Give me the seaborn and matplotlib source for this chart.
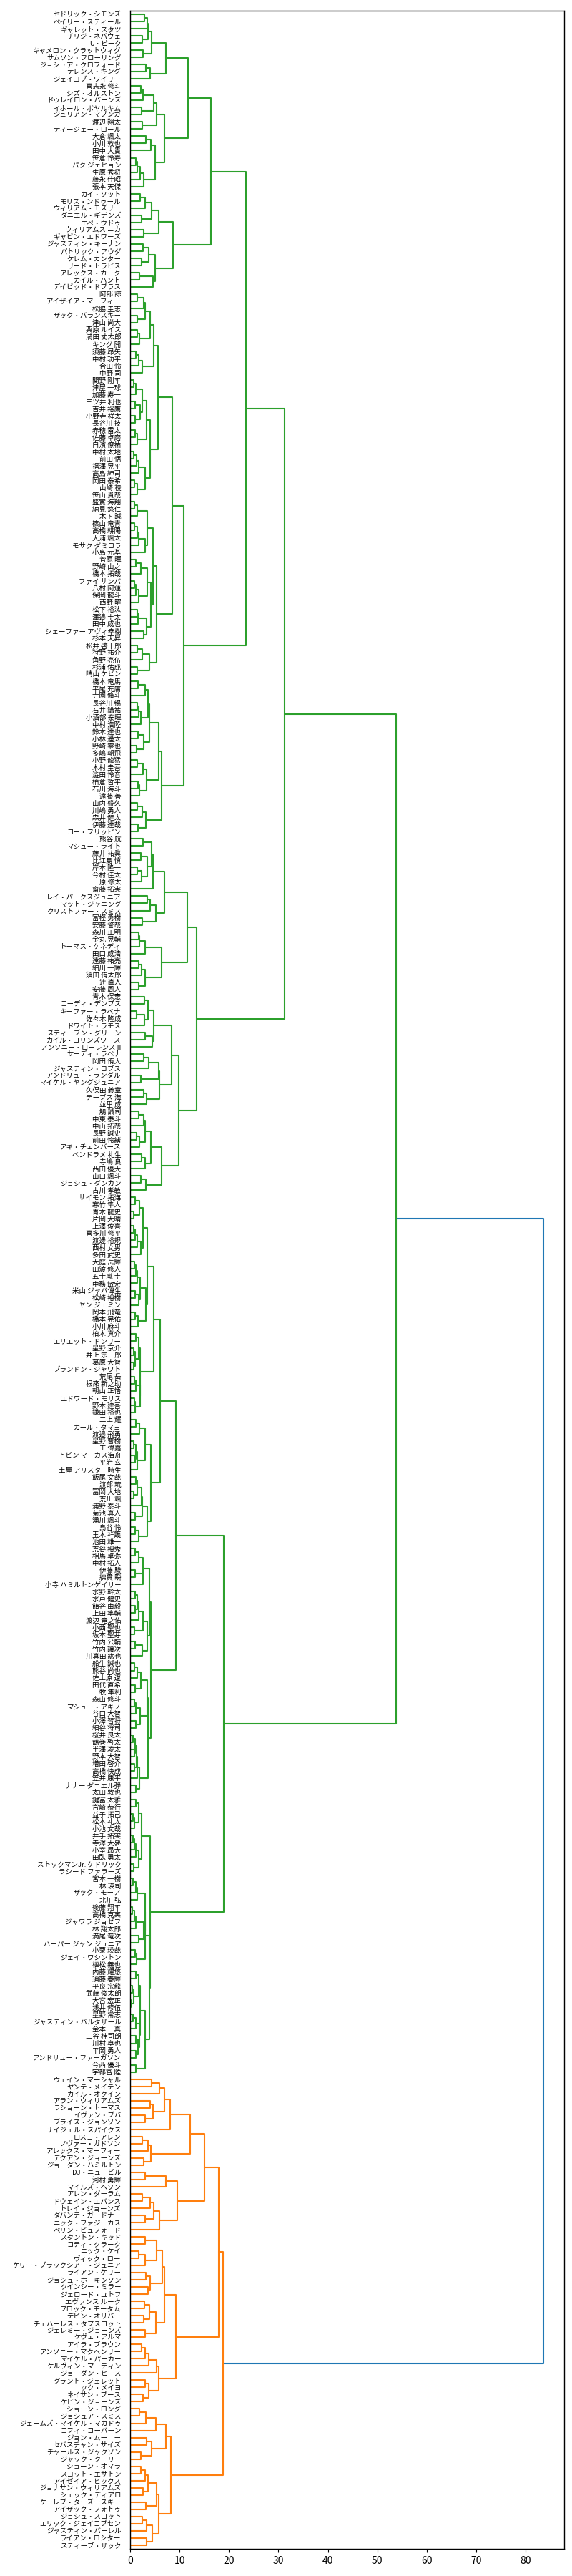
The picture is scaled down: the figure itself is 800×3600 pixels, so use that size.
import numpy as np
import pandas as pd
import matplotlib
matplotlib.use('Agg')
import matplotlib.pyplot as plt
import seaborn as sns

# leaf labels, top to bottom as they appear on the chart
leaf_names = [
    "セドリック・シモンズ", "ベイリー・スティール", "ギャレット・スタツ", "チリジ・ネバウェ", "U・ピーク",
    "キャメロン・クラットウィグ", "サムソン・フローリング", "ジョシュア・クロフォード", "テレンス・キング", "ジェイコブ・ワイリー",
    "喜志永 修斗", "シズ・オルストン", "ドゥレイロン・バーンズ", "イホール・ボヤルキム", "ジュリアン・マブンガ",
    "渡辺 翔太", "ティージェー・ロール", "大倉 颯太", "小川 敦也", "田中 大貴",
    "笹倉 怜寿", "パク ジェヒョン", "生原 秀将", "藤永 佳昭", "張本 天傑",
    "カイ・ソット", "モリス・ンドゥール", "ウィリアム・モズリー", "ダニエル・ギデンズ", "エペ・ウドゥ",
    "ウィリアムス ニカ", "ギャビン・エドワーズ", "ジャスティン・キーナン", "パトリック・アウダ", "ケレム・カンター",
    "リード・トラビス", "アレックス・カーク", "カイル・ハント", "デイビッド・ドブラス", "阿部 諒",
    "アイザイア・マーフィー", "松脇 圭志", "ザック・バランスキー", "津山 尚大", "栗原 ルイス",
    "満田 丈太郎", "キング 開", "須藤 昂矢", "中村 功平", "合田 怜",
    "中野 司", "関野 剛平", "津屋 一球", "加藤 寿一", "三ツ井 利也",
    "吉井 裕鷹", "小野寺 祥太", "長谷川 技", "赤穂 雷太", "佐藤 卓磨",
    "白濱 僚祐", "中村 太地", "前田 悟", "福澤 晃平", "高島 紳司",
    "岡田 泰希", "山崎 稜", "笹山 貴哉", "盛實 海翔", "納見 悠仁",
    "木下 誠", "篠山 竜青", "高橋 耕陽", "大浦 颯太", "モサク ダミロラ",
    "小島 元基", "菅原 暉", "野崎 由之", "橋本 拓哉", "ファイ サンバ",
    "八村 阿蓮", "保岡 龍斗", "西野 曜", "松下 裕汰", "澤邉 圭太",
    "田中 成也", "シェーファー アヴィ幸樹", "杉本 天昇", "松井 啓十郎", "狩野 祐介",
    "角野 亮伍", "杉浦 佑成", "晴山 ケビン", "橋本 竜馬", "平尾 充庸",
    "寺園 脩斗", "長谷川 暢", "石井 講祐", "小酒部 泰暉", "中村 浩陸",
    "鈴木 達也", "小林 遥太", "野崎 零也", "多嶋 朝飛", "小野 龍猛",
    "木村 圭吾", "澁田 怜音", "柏倉 哲平", "石川 海斗", "遠藤 善",
    "山内 盛久", "川嶋 勇人", "森井 健太", "伊藤 達哉", "コー・フリッピン",
    "熊谷 航", "マシュー・ライト", "藤井 祐眞", "比江島 慎", "岸本 隆一",
    "今村 佳太", "原 修太", "齋藤 拓実", "レイ・パークスジュニア", "マット・ジャニング",
    "クリストファー・スミス", "富樫 勇樹", "安藤 誓哉", "森川 正明", "金丸 晃輔",
    "トーマス・ケネディ", "田口 成浩", "遠藤 祐亮", "細川 一輝", "須田 侑太郎",
    "辻 直人", "安藤 周人", "青木 保憲", "コーディ・デンプス", "キーファー・ラベナ",
    "佐々木 隆成", "ドワイト・ラモス", "スティーブン・グリーン", "カイル・コリンズワース", "アンソニー・ローレンス II",
    "サーディ・ラベナ", "岡田 侑大", "ジャスティン・コブス", "アンドリュー・ランダル", "マイケル・ヤングジュニア",
    "久保田 義章", "テーブス 海", "並里 成", "鵤 誠司", "中東 泰斗",
    "中山 拓哉", "長野 誠史", "前田 怜緒", "アキ・チェンバース", "ベンドラメ 礼生",
    "寺嶋 良", "西田 優大", "山口 颯斗", "ジョシュ・ダンカン", "古川 孝敏",
    "サイモン 拓海", "寒竹 隼人", "青木 龍史", "片岡 大晴", "上澤 俊喜",
    "喜多川 修平", "渡邊 裕規", "西村 文男", "多田 武史", "大庭 岳輝",
    "田渡 修人", "五十嵐 圭", "中務 敏宏", "米山 ジャバ偉生", "松崎 裕樹",
    "ヤン ジェミン", "岡本 飛竜", "橋本 晃佑", "小川 麻斗", "柏木 真介",
    "エリエット・ドンリー", "星野 京介", "井上 宗一郎", "葛原 大智", "ブランドン・ジャワト",
    "荒尾 岳", "根來 新之助", "朝山 正悟", "エドワード・モリス", "野本 建吾",
    "鎌田 裕也", "二上 耀", "カール・タマヨ", "渡邉 飛勇", "星野 曹樹",
    "王 偉嘉", "トビン マーカス海舟", "平岩 玄", "土屋 アリスター時生", "飯尾 文哉",
    "渡部 琉", "冨岡 大地", "荒川 颯", "浦野 泰斗", "菊池 真人",
    "湧川 颯斗", "島谷 怜", "玉木 祥護", "池田 雄一", "荒谷 裕秀",
    "相馬 卓弥", "中村 拓人", "伊藤 駿", "綿貫 瞬", "小寺 ハミルトンゲイリー",
    "水野 幹太", "水戸 健史", "飴谷 由毅", "上田 隼輔", "渡辺 竜之佑",
    "小西 聖也", "坂本 聖芽", "竹内 公輔", "竹内 譲次", "川真田 紘也",
    "船生 誠也", "熊谷 尚也", "佐土原 遼", "田代 直希", "牧 隼利",
    "森山 修斗", "マシュー・アキノ", "谷口 大智", "小澤 智将", "細谷 将司",
    "桜井 良太", "鶴巻 啓太", "半澤 凌太", "野本 大智", "増田 啓介",
    "高橋 快成", "笠井 康平", "ナナー ダニエル弾", "太田 敦也", "鍵冨 太雅",
    "宮崎 恭行", "益子 拓己", "松本 礼太", "小池 文哉", "井手 拓実",
    "寺澤 大夢", "小室 昂大", "田臥 勇太", "ストックマンJr. ケドリック", "ラシード ファラーズ",
    "宮本 一樹", "林 瑛司", "ザック・モーア", "北川 弘", "後藤 翔平",
    "高橋 克実", "ジャワラ ジョゼフ", "林 翔太郎", "満尾 竜次", "ハーパー ジャン ジュニア",
    "小栗 瑛哉", "ジェイ・ワシントン", "植松 義也", "内藤 耀悠", "須藤 春輝",
    "平良 宗龍", "武藤 俊太朗", "大宮 宏正", "浅井 修伍", "星野 常志",
    "ジャスティン・バルタザール", "金本 一真", "三谷 桂司朗", "川村 卓也", "平岡 勇人",
    "アンドリュー・ファーガソン", "今西 優斗", "宇都宮 陸", "ウェイン・マーシャル", "ヤンテ・メイテン",
    "カイル・オクイン", "アラン・ウィリアムズ", "ラショーン・トーマス", "イヴァン・ブバ", "ブライス・ジョンソン",
    "ナイジェル・スパイクス", "ロスコ・アレン", "ノヴァー・ガドソン", "アレックス・マーフィー", "デクアン・ジョーンズ",
    "ジョーダン・ハミルトン", "DJ・ニュービル", "河村 勇輝", "マイルズ・ヘソン", "アレン・ダーラム",
    "ドウェイン・エバンス", "トレイ・ジョーンズ", "ダバンテ・ガードナー", "ニック・ファジーカス", "ペリン・ビュフォード",
    "スタントン・キッド", "コティ・クラーク", "ニック・ケイ", "ヴィック・ロー", "ケリー・ブラックシアー・ジュニア",
    "ライアン・ケリー", "ジョシュ・ホーキンソン", "クインシー・ミラー", "ジェロード・ユトフ", "エヴァンス ルーク",
    "ブロック・モータム", "デビン・オリバー", "チェハーレス・タプスコット", "ジェレミー・ジョーンズ", "ケヴェ・アルマ",
    "アイラ・ブラウン", "アンソニー・マクヘンリー", "マイケル・パーカー", "ケルヴィン・マーティン", "ジョーダン・ヒース",
    "グラント・ジェレット", "ニック・メイヨ", "ネイサン・ブース", "ケビン・ジョーンズ", "ショーン・ロング",
    "ジョシュア・スミス", "ジェームズ・マイケル・マカドゥ", "コフィ・コーバーン", "ジョン・ムーニー", "セバスチャン・サイズ",
    "チャールズ・ジャクソン", "ジャック・クーリー", "ショーン・オマラ", "スコット・エサトン", "アイゼイア・ヒックス",
    "ジョナサン・ウィリアムズ", "シェック・ディアロ", "ケーレブ・ターズースキー", "アイザック・フォトゥ", "ジョシュ・スコット",
    "エリック・ジェイコブセン", "ジャスティン・バーレル", "ライアン・ロシター", "スティーブ・ザック",
]

# merge height between each leaf and the next one down
link_heights = [
    2.9, 3.4, 3.6, 2.4, 4.4, 2.6, 7.3, 3.2, 4.1,
    11.7,
    2.2, 2.6, 4.8, 2.3, 5.3, 2.4, 6.9, 3.2, 4.2, 5.1, 1.2, 1.5, 2.0, 2.7,
    16.3,
    2.0, 3.0, 4.4, 2.3, 5.8, 2.8, 8.7, 2.6, 3.7, 2.3, 5.0, 1.9, 4.6,
    23.4,
    1.4, 2.7, 3.1, 1.4, 4.0, 1.4, 1.9, 4.8, 1.2, 1.8, 2.5,
    5.7,
    0.7, 1.2, 2.5, 1.0, 2.0, 1.0, 3.3, 1.0, 1.5,
    4.0,
    0.7, 1.3, 1.8, 3.1, 0.9, 1.5, 8.5, 0.9, 1.4, 3.5, 0.9, 1.5, 1.8, 3.1,
    4.6, 1.2, 2.2, 3.5, 0.9, 1.2, 1.8, 4.2, 1.4, 1.6, 3.3, 2.7,
    5.3, 1.4, 2.5, 3.9, 1.4,
    10.8,
    1.6, 3.0, 3.6, 1.4, 1.8, 2.1, 3.9, 1.6, 2.7, 1.3, 5.8, 1.4, 2.6, 3.3, 1.6,
    1.9, 6.3,
    1.4, 2.4, 3.2, 1.6,
    31.2,
    2.6, 4.4, 2.2, 3.5, 1.5, 2.3, 4.6, 6.9, 3.4, 4.1, 5.2, 2.5,
    11.5,
    1.7, 1.9, 3.1, 6.3, 1.7, 2.3, 3.1, 1.7,
    13.5,
    2.9, 3.6, 1.3, 2.9, 4.8, 3.0, 4.5, 8.4, 2.7, 3.8, 5.8, 2.1, 6.0, 2.7, 3.3,
    9.9,
    1.7, 2.7, 3.0, 1.3, 1.9, 4.2, 2.3, 3.1, 6.3, 2.1, 3.2,
    53.8,
    1.0, 1.9, 0.7, 2.6, 0.7, 1.0, 1.4, 2.1, 3.4, 0.8, 1.2, 1.5,
    2.0, 1.0, 1.8, 3.2, 1.0, 1.6, 4.8,
    1.2, 1.8, 0.7, 1.0, 0.7, 2.0, 0.9, 1.2, 2.0, 0.8, 1.0,
    6.1,
    1.2, 1.9, 3.0, 0.7, 1.2, 1.0, 1.5, 4.2, 1.2, 1.4, 0.7, 2.3, 2.4, 1.0, 3.5, 1.0, 1.7,
    9.2,
    1.0, 1.7, 2.6, 1.0, 2.6, 3.9, 1.0, 1.5, 1.0, 1.8, 2.6, 0.8, 3.5, 1.0, 2.4,
    4.2,
    0.8, 1.4, 2.2, 1.0, 3.4, 0.8, 1.2, 2.0, 1.1, 3.6, 0.6, 1.0, 0.8, 1.3, 0.8, 1.5, 1.9, 1.2,
    19.0,
    1.1, 1.8, 0.6, 0.9, 2.3, 0.6, 0.8, 1.2, 1.8, 0.7,
    4.1,
    0.6, 1.2, 1.4, 3.0, 0.4, 0.8, 1.1, 2.8, 1.7, 3.1, 1.0, 1.3, 3.9, 1.1,
    1.7, 0.5, 0.7, 0.2, 2.0, 0.6, 1.2, 1.9, 1.1, 1.6, 1.1, 3.1, 1.2,
    83.6,
    4.4, 5.9, 7.0, 4.0, 4.6, 3.0, 8.1, 12.1, 2.5, 3.6, 4.2, 2.8, 15.1,
    3.0, 7.2, 9.5, 2.4, 4.1, 4.7, 3.0, 6.0,
    17.9,
    3.0, 5.3, 1.7, 3.0, 6.5, 3.2, 4.0, 3.6, 7.0, 2.9, 3.9, 2.8, 5.2, 3.0,
    9.2,
    2.3, 3.1, 3.7, 5.3, 5.8, 3.0, 3.7, 2.6,
    18.8,
    1.9, 3.2, 5.2, 7.2, 3.3, 4.3, 2.2, 8.2, 2.2, 3.0, 3.6, 2.6, 5.3, 3.2, 5.8, 2.4, 3.3, 4.5, 3.3,
]

n = len(leaf_names)
print("leaves", n, "links", len(link_heights))

# same layout as scipy's dendrogram: leaf i at 5, 15, 25 ... counted from the bottom
leaf_y = [10 * (n - i) - 5 for i in range(n)]


def build(lo, hi):
    if lo == hi:
        return {"y": leaf_y[lo], "h": 0.0, "hi": hi, "kids": []}
    k = lo + int(np.argmax(link_heights[lo:hi]))
    a = build(lo, k)
    b = build(k + 1, hi)
    return {"y": (a["y"] + b["y"]) / 2, "h": link_heights[k], "hi": hi, "kids": [a, b]}


root = build(0, n - 1)

cut = 0.7 * max(link_heights)
above_color = "#1f77b4"
cluster_colors = ["#ff7f0e", "#2ca02c", "#d62728", "#9467bd"]

# clusters below the cut get colours in order from the bottom leaf up
clusters = []


def find(node):
    if not node["kids"]:
        return
    if node["h"] < cut:
        clusters.append(node)
    else:
        for c in node["kids"]:
            find(c)


find(root)
clusters.sort(key=lambda c: -c["hi"])
colour_of = {id(c): cluster_colors[i % len(cluster_colors)] for i, c in enumerate(clusters)}

rows = []


def walk(node, colour):
    if not node["kids"]:
        return
    if id(node) in colour_of:
        colour = colour_of[id(node)]
    a, b = node["kids"]
    c = colour if colour else above_color
    lid = len(rows) // 4
    for x, y in [(a["h"], a["y"]), (node["h"], a["y"]), (node["h"], b["y"]), (b["h"], b["y"])]:
        rows.append({"link": lid, "x": x, "y": y, "colour": c})
    walk(a, colour)
    walk(b, colour)


walk(root, None)
df = pd.DataFrame(rows)

sns.set_style("ticks")
plt.rcParams["font.family"] = ["Noto Sans CJK JP", "DejaVu Sans"]
plt.rcParams["axes.edgecolor"] = "black"
plt.rcParams["axes.linewidth"] = 1.0

fig = plt.figure(figsize=(8, 36), dpi=100)
ax = fig.add_axes([0.2275, 0.0106, 0.7588, 0.9852])

palette = {c: c for c in df["colour"].unique()}
sns.lineplot(data=df, x="x", y="y", units="link", estimator=None, hue="colour",
             palette=palette, sort=False, legend=False, linewidth=1.5, ax=ax)

ax.set_xlim(0, max(link_heights) * 1.05)
ax.set_ylim(0, 10 * n)
ax.set_yticks(leaf_y)
ax.set_yticklabels(leaf_names, fontsize=6.8, color="black")
ax.tick_params(axis="y", length=0, pad=9)
ax.tick_params(axis="x", labelsize=10, colors="black", length=3.5)
ax.set_xlabel("")
ax.set_ylabel("")
for s in ax.spines.values():
    s.set_visible(True)
    s.set_color("black")

plt.savefig("out.png", dpi=100)
plt.close()
